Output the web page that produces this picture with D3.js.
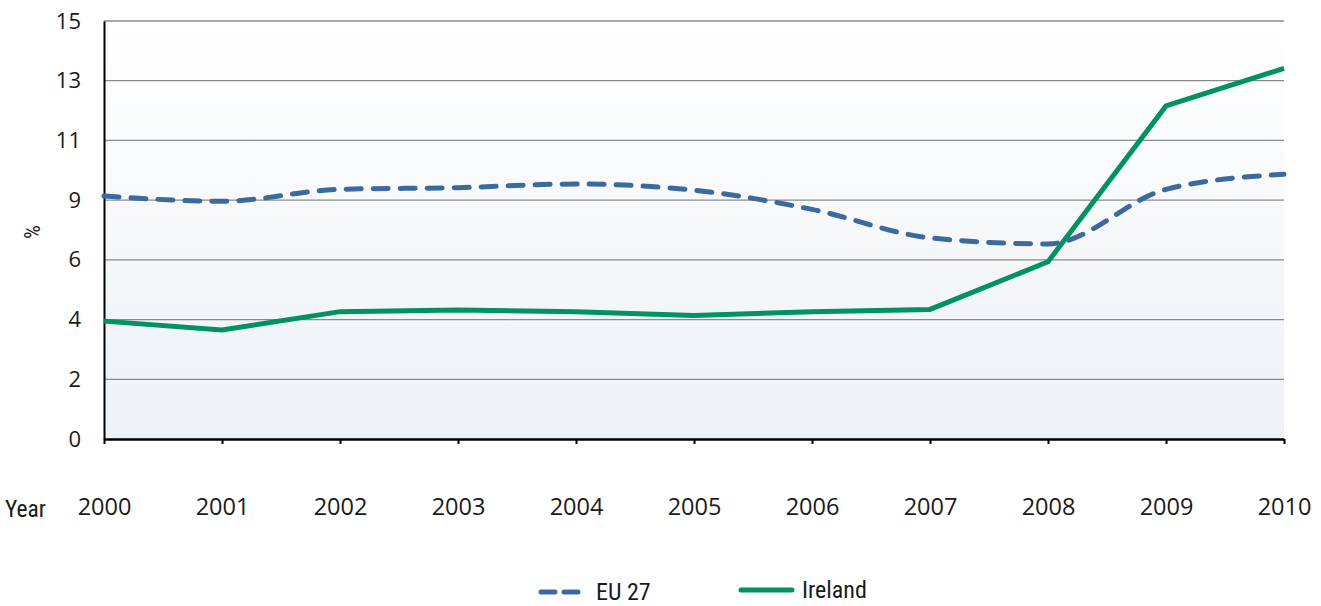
<!DOCTYPE html>
<html><head><meta charset="utf-8">
<script src="https://cdn.jsdelivr.net/npm/d3@7"></script>
<style>
body{margin:0;background:#fff;}
text{font-family:"Liberation Sans Narrow","Roboto Condensed","Open Sans",sans-serif;fill:#1a1a1a;}
</style></head>
<body><svg id="c" width="1321" height="606"></svg>
<script>
const years = [2000,2001,2002,2003,2004,2005,2006,2007,2008,2009,2010];
const eu27 = [8.72,8.53,8.96,9.02,9.15,8.93,8.24,7.22,7.0,8.96,9.5];
const ireland = [4.23,3.91,4.57,4.63,4.57,4.43,4.57,4.65,6.36,11.95,13.30];
const yTickValues = [0,15/7,30/7,45/7,60/7,75/7,90/7,15];
const yTickLabels = ["0","2","4","6","9","11","13","15"];
const seriesNames = ["EU 27","Ireland"];

const svg = d3.select("#c");
const m = {l:104, r:1284, t:21, b:439};
const x = d3.scalePoint().domain(years).range([m.l, m.r]);
const y = d3.scaleLinear().domain([0,15]).range([m.b, m.t]);

const defs = svg.append("defs");
const g = defs.append("linearGradient").attr("id","bg").attr("x1",0).attr("y1",0).attr("x2",0).attr("y2",1);
g.append("stop").attr("offset","0%").attr("stop-color","#ffffff");
g.append("stop").attr("offset","100%").attr("stop-color","#eef2f5");
svg.append("rect").attr("x",m.l).attr("y",m.t).attr("width",m.r-m.l).attr("height",m.b-m.t).attr("fill","url(#bg)");

// gridlines
svg.append("g").selectAll("line").data(yTickValues.slice(1)).join("line")
  .attr("x1",m.l).attr("x2",m.r).attr("y1",d=>y(d)).attr("y2",d=>y(d))
  .attr("stroke","#8a8a8a").attr("stroke-width",1.3);

// y axis
const ya = svg.append("g").attr("transform",`translate(${m.l},0)`)
  .call(d3.axisLeft(y).tickValues(yTickValues).tickFormat((d,i)=>yTickLabels[i]).tickSize(0).tickPadding(23));
ya.select(".domain").attr("stroke","#000").attr("stroke-width",2);
ya.selectAll("text").attr("font-size",22).attr("fill","#1a1a1a").style("font-family",'"Liberation Sans Narrow","Open Sans",sans-serif');

// x axis
const xa = svg.append("g").attr("transform",`translate(0,${m.b})`)
  .call(d3.axisBottom(x).tickSize(5).tickPadding(54).tickSizeOuter(0));
xa.select(".domain").attr("stroke","#000").attr("stroke-width",2.5);
xa.selectAll(".tick line").attr("stroke","#000").attr("stroke-width",2);
xa.selectAll("text").attr("font-size",23.5).attr("fill","#1a1a1a").style("font-family",'"Liberation Sans Narrow","Open Sans",sans-serif');

svg.append("text").attr("x",5).attr("y",517).attr("font-size",23.5).text("Year");
svg.append("text").attr("transform","translate(40,232) rotate(-90)").attr("text-anchor","middle").attr("font-size",22).text("%");

const line = d3.line().x((d,i)=>x(years[i])).y(d=>y(d));
svg.append("path").datum(eu27).attr("d",line.curve(d3.curveMonotoneX))
  .attr("fill","none").attr("stroke","#3d6a9e").attr("stroke-width",5)
  .attr("stroke-dasharray","15,12").attr("stroke-linecap","round");
svg.append("path").datum(ireland).attr("d",d3.line().x((d,i)=>x(years[i])).y(d=>y(d)))
  .attr("fill","none").attr("stroke","#009260").attr("stroke-width",5).attr("stroke-linejoin","miter");

// legend
const lg = svg.append("g");
lg.append("line").attr("x1",541).attr("x2",584).attr("y1",592).attr("y2",592)
  .attr("stroke","#3d6a9e").attr("stroke-width",5).attr("stroke-dasharray","14,9").attr("stroke-linecap","round");
lg.append("text").attr("x",596).attr("y",600).attr("font-size",24).text(seriesNames[0]);
lg.append("line").attr("x1",741).attr("x2",792).attr("y1",590).attr("y2",590)
  .attr("stroke","#009260").attr("stroke-width",5).attr("stroke-linecap","round");
lg.append("text").attr("x",802).attr("y",598).attr("font-size",24).text(seriesNames[1]);
</script></body></html>
